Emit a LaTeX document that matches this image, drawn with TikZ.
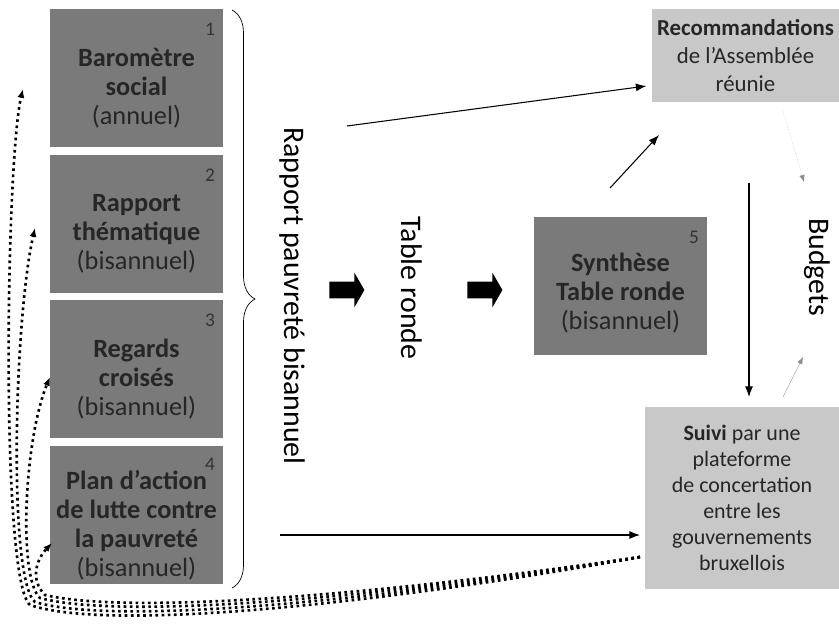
\documentclass[tikz,border=0pt]{standalone}
\usepackage{fontspec}
\setmainfont{Carlito}
\usetikzlibrary{positioning,arrows.meta,shapes.arrows,decorations.pathreplacing}
\definecolor{boxdark}{RGB}{122,122,122}
\definecolor{boxlight}{RGB}{200,200,200}

\begin{document}
\begin{tikzpicture}[x=0.02cm, y=-0.02cm,
				darkbox/.style={fill=boxdark, minimum width=3.46cm, minimum height=2.76cm, inner sep=0pt},
				boxtext/.style={align=center, inner sep=0pt, text=black!85, font=\fontsize{15}{16.5}\selectfont},
				lightbox/.style={fill=boxlight, align=center, inner sep=2pt, text=black!85, font=\fontsize{13}{15.8}\selectfont},
				num/.style={anchor=north east, inner sep=0pt, text=black!80, font=\fontsize{11}{13}\selectfont},
				vlabel/.style={rotate=-90, font=\fontsize{17}{20}\selectfont},
				blockarrow/.style={single arrow, fill=black, inner xsep=0pt, inner ysep=0.16cm, minimum height=0.7cm, single arrow head extend=0.18cm, single arrow tip angle=120},
				arrow/.style={-{Latex[length=6pt,width=4.5pt]}, semithick},
				thinarrow/.style={-{Latex[length=4pt,width=3pt]}, very thin, black!45},
				dotarrow/.style={-{Latex[length=5pt,width=4pt]}, line width=1.5pt, dotted}
			]
			\useasboundingbox (0,0) rectangle (839,627);

			% Rapports
			\node[darkbox] (b1) at (136.5,78) {};
			\node[darkbox, below=0.14cm of b1] (b2) {};
			\node[darkbox, below=0.14cm of b2] (b3) {};
			\node[darkbox, below=0.14cm of b3] (b4) {};
			\node[boxtext] (t1) at ([yshift=-0.2cm]b1.center) {\textbf{Baromètre}\\\textbf{social}\\(annuel)};
			\node[boxtext] (t2) at ([yshift=-0.2cm]b2.center) {\textbf{Rapport}\\\textbf{thématique}\\(bisannuel)};
			\node[boxtext] (t3) at ([yshift=-0.2cm]b3.center) {\textbf{Regards}\\\textbf{croisés}\\(bisannuel)};
			\node[boxtext] (t4) at ([yshift=-0.2cm]b4.center) {\textbf{Plan d’action}\\\textbf{de lutte contre}\\\textbf{la pauvreté}\\(bisannuel)};
			\node[num] at ([xshift=-0.16cm,yshift=-0.28cm]b1.north east) {1};
			\node[num] at ([xshift=-0.16cm,yshift=-0.28cm]b2.north east) {2};
			\node[num] at ([xshift=-0.16cm,yshift=-0.28cm]b3.north east) {3};
			\node[num] at ([xshift=-0.16cm,yshift=-0.24cm]b4.north east) {4};

			\draw[decorate, decoration={brace, amplitude=0.46cm}] (232,10) -- (232,588);
			\node[vlabel] (rpb) at (292,296) {Rapport pauvreté bisannuel};

			% Table ronde
			\node[blockarrow] (ba1) at (344.5,290) {};
			\node[vlabel] (tr) at (412,288) {Table ronde};
			\node[blockarrow] (ba2) at (482.5,290) {};
			\node[darkbox] (s5) at (620.5,286) {};
			\node[boxtext] (t5) at ([yshift=-0.14cm]s5.center) {\textbf{Synthèse}\\\textbf{Table ronde}\\(bisannuel)};
			\node[num] at ([xshift=-0.16cm,yshift=-0.28cm]s5.north east) {5};

			% Suivi
			\node[lightbox, minimum width=3.74cm, minimum height=1.86cm] (rec) at (745.5,55.5) {\textbf{Recommandations}\\de l’Assemblée\\réunie};
			\node[lightbox, minimum width=3.88cm, minimum height=3.66cm, font=\fontsize{12.5}{14.8}\selectfont] (su) at (742,498) {\textbf{Suivi} par une\\plateforme\\de concertation\\entre les\\gouvernements\\bruxellois};
			\node[vlabel] (bud) at (817,267) {Budgets};

			\coordinate (rpbout) at (347,126);
			\coordinate (s5out) at (610,188);
			\coordinate (recin) at (659,135);
			\coordinate (recout) at (783,111);
			\coordinate (budin) at (804,182);
			\coordinate (vtop) at (749,183);
			\coordinate (vbot) at (749,397);
			\coordinate (suout) at (783,397);
			\coordinate (budin2) at (803,357);
			\coordinate (planout) at (280,535);
			\coordinate (suin) at (640,535);
			\coordinate (dotstart) at (640,557);

			% Arrows
			\draw[arrow] (rpbout) -- ([xshift=-3pt]rec.198);
			\draw[arrow] (s5out) -- (recin);
			\draw[thinarrow, densely dotted] (recout) -- (budin);
			\draw[arrow] (vtop) -- (vbot);
			\draw[thinarrow] (suout) -- (budin2);
			\draw[arrow] (planout) -- (suin);

			% Retours
			\draw[dotarrow] (dotstart) .. controls (380,604) and (110,632) .. (30,605) .. controls (0,580) and (6,160) .. (23,89);
			\draw[dotarrow] (dotstart) .. controls (380,601) and (115,626) .. (35,602) .. controls (8,580) and (14,320) .. (35,228);
			\draw[dotarrow] (dotstart) .. controls (380,598) and (122,620) .. (40,598) .. controls (18,578) and (24,440) .. (50,377);
			\draw[dotarrow] (dotstart) .. controls (380,595) and (130,615) .. (45,595) .. controls (30,580) and (36,560) .. (52,543);
		\end{tikzpicture}
\end{document}
